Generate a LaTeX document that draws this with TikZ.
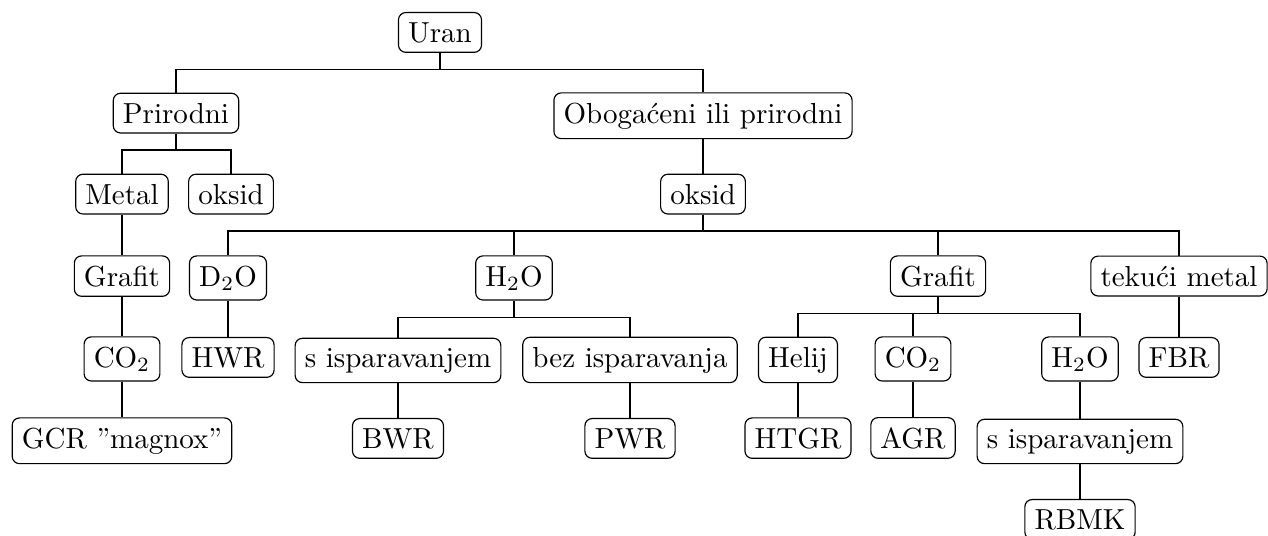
\documentclass[tikz,border=0pt]{standalone}
\begin{document}
\begin{tikzpicture}[x=0.345pt,y=-0.345pt,
  box/.style={draw,rounded corners=2.5pt,anchor=base,inner sep=0.3333em,line width=0.4pt},
  link/.style={draw,line width=0.4pt}]
\useasboundingbox (0,0) rectangle (1268,535);
% level 0
\node[box] (uran) at (440,42) {Uran};
% level 1
\node[box] (prir) at (176,123) {Prirodni};
\node[box] (obog) at (703,123) {Obogaćeni ili prirodni};
% level 2
\node[box] (metal) at (122,204) {Metal};
\node[box] (oksL) at (231,204) {oksid};
\node[box] (oksR) at (703,204) {oksid};
% level 3
\node[box] (grafL) at (122,286) {Grafit};
\node[box] (d2o) at (228,286) {D$_2$O};
\node[box] (h2o) at (514,286) {H$_2$O};
\node[box] (grafR) at (938,286) {Grafit};
\node[box] (tek) at (1179,286) {tekući metal};
% level 4
\node[box] (co2L) at (122,367) {CO$_2$};
\node[box] (hwr) at (228,367) {HWR};
\node[box] (sisp) at (398,367) {s isparavanjem};
\node[box] (bez) at (630,367) {bez isparavanja};
\node[box] (helij) at (798,367) {Helij};
\node[box] (co2R) at (913,367) {CO$_2$};
\node[box] (h2oR) at (1080,367) {H$_2$O};
\node[box] (fbr) at (1179,367) {FBR};
% level 5
\node[box] (gcr) at (122,448) {GCR ''magnox''};
\node[box] (bwr) at (398,448) {BWR};
\node[box] (pwr) at (630,448) {PWR};
\node[box] (htgr) at (798,448) {HTGR};
\node[box] (agr) at (913,448) {AGR};
\node[box] (sisp2) at (1080,448) {s isparavanjem};
% level 6
\node[box] (rbmk) at (1080,529) {RBMK};
% edges
\foreach \p/\c in {uran/prir,uran/obog,prir/metal,prir/oksL,obog/oksR,
  metal/grafL,oksR/d2o,oksR/h2o,oksR/grafR,oksR/tek,
  grafL/co2L,d2o/hwr,h2o/sisp,h2o/bez,grafR/helij,grafR/co2R,grafR/h2oR,tek/fbr,
  co2L/gcr,sisp/bwr,bez/pwr,helij/htgr,co2R/agr,h2oR/sisp2,sisp2/rbmk}
  \path[link] (\p.south) -- ++(0,16.5) -| (\c.north);
\end{tikzpicture}
\end{document}
